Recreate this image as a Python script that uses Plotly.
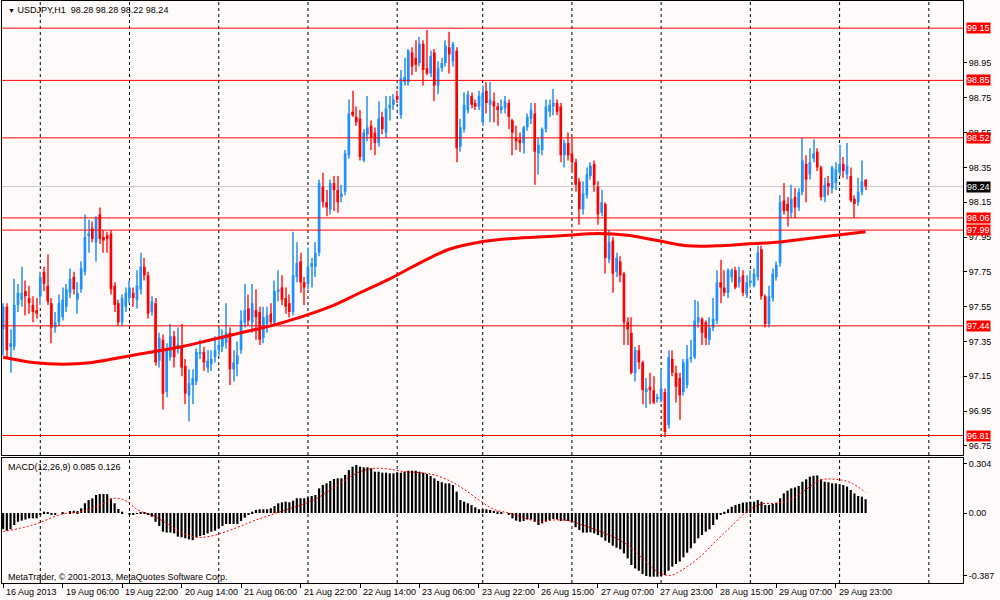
import plotly.graph_objects as go

# ---------------- data ----------------
opens = [
    97.42, 97.55, 97.32, 97.32, 97.56, 97.59, 97.64, 97.60, 97.56, 97.53,
    97.61, 97.75, 97.67, 97.57, 97.43, 97.46, 97.49, 97.55, 97.63, 97.72,
    97.59, 97.65, 97.75, 97.96, 98.00, 97.92, 98.08, 97.95, 97.96, 97.97,
    97.67, 97.57, 97.46, 97.55, 97.60, 97.63, 97.59, 97.65, 97.78, 97.73,
    97.52, 97.57, 97.24, 97.36, 97.06, 97.26, 97.38, 97.31, 97.32, 97.21,
    97.04, 97.10, 97.12, 97.28, 97.29, 97.20, 97.22, 97.26, 97.30, 97.32,
    97.34, 97.40, 97.19, 97.22, 97.30, 97.46, 97.54, 97.46, 97.53, 97.52,
    97.37, 97.45, 97.51, 97.46, 97.64, 97.66, 97.60, 97.57, 97.52, 97.72,
    97.81, 97.69, 97.68, 97.78, 97.78, 97.86, 98.24, 98.15, 98.11, 98.26,
    98.22, 98.18, 98.21, 98.42, 98.67, 98.64, 98.63, 98.39, 98.54, 98.59,
    98.55, 98.49, 98.64, 98.55, 98.69, 98.71, 98.76, 98.65, 98.84, 98.84,
    99.01, 98.98, 98.95, 99.06, 98.92, 98.89, 99.01, 98.82, 98.92, 98.95,
    99.04, 98.96, 99.02, 98.47, 98.57, 98.68, 98.76, 98.72, 98.70, 98.61,
    98.79, 98.71, 98.73, 98.70, 98.68, 98.69, 98.72, 98.62, 98.52, 98.51,
    98.49, 98.58, 98.63, 98.66, 98.43, 98.45, 98.57, 98.67, 98.70, 98.72,
    98.70, 98.42, 98.49, 98.43, 98.38, 98.27, 98.11, 98.19, 98.30, 98.37,
    98.24, 98.09, 98.14, 97.82, 97.93, 97.75, 97.81, 97.74, 97.46, 97.40,
    97.17, 97.30, 97.23, 97.06, 97.09, 97.07, 97.02, 97.01, 97.06, 96.87,
    97.25, 97.17, 97.14, 97.06, 97.10, 97.25, 97.26, 97.46, 97.48, 97.46,
    97.36, 97.43, 97.47, 97.69, 97.66, 97.63, 97.72, 97.76, 97.69, 97.73,
    97.62, 97.69, 97.67, 97.72, 97.88, 97.61, 97.45, 97.60, 97.72, 97.80,
    98.16, 98.14, 98.09, 98.18, 98.12, 98.21, 98.37, 98.31, 98.40, 98.44,
    98.35, 98.18, 98.26, 98.23, 98.26, 98.32, 98.37, 98.31, 98.30, 98.17,
    98.15, 98.21, 98.28,
]
highs = [
    97.57, 97.57, 97.42, 97.71, 97.68, 97.78, 97.70, 97.67, 97.61, 97.60,
    97.75, 97.78, 97.85, 97.60, 97.52, 97.62, 97.66, 97.68, 97.77, 97.75,
    97.69, 97.81, 98.08, 98.05, 98.04, 98.07, 98.12, 97.99, 97.98, 97.99,
    97.69, 97.59, 97.62, 97.66, 97.70, 97.66, 97.76, 97.86, 97.83, 97.75,
    97.61, 97.60, 97.40, 97.39, 97.34, 97.45, 97.41, 97.43, 97.45, 97.25,
    97.19, 97.19, 97.31, 97.36, 97.32, 97.30, 97.30, 97.38, 97.43, 97.42,
    97.57, 97.43, 97.30, 97.35, 97.53, 97.68, 97.62, 97.68, 97.65, 97.55,
    97.55, 97.55, 97.57, 97.70, 97.76, 97.73, 97.66, 97.62, 97.98, 97.92,
    97.86, 97.72, 97.89, 97.83, 97.92, 98.28, 98.32, 98.22, 98.28, 98.30,
    98.30, 98.25, 98.45, 98.74, 98.79, 98.70, 98.68, 98.57, 98.76, 98.62,
    98.58, 98.73, 98.67, 98.76, 98.76, 98.77, 98.79, 98.91, 98.98, 99.03,
    99.04, 99.08, 99.10, 99.08, 99.14, 99.02, 99.03, 98.96, 98.98, 99.08,
    99.13, 99.07, 99.04, 98.63, 98.78, 98.79, 98.78, 98.74, 98.79, 98.82,
    98.84, 98.84, 98.78, 98.72, 98.74, 98.76, 98.74, 98.63, 98.59, 98.55,
    98.59, 98.66, 98.72, 98.72, 98.52, 98.58, 98.74, 98.74, 98.80, 98.74,
    98.72, 98.51, 98.55, 98.52, 98.40, 98.29, 98.27, 98.35, 98.38, 98.39,
    98.27, 98.22, 98.15, 97.99, 97.95, 97.86, 97.84, 97.75, 97.49, 97.49,
    97.32, 97.33, 97.24, 97.14, 97.17, 97.15, 97.05, 97.19, 97.08, 97.30,
    97.30, 97.21, 97.17, 97.25, 97.33, 97.36, 97.59, 97.58, 97.49, 97.47,
    97.49, 97.60, 97.76, 97.82, 97.76, 97.77, 97.77, 97.78, 97.78, 97.76,
    97.73, 97.76, 97.77, 97.90, 97.90, 97.62, 97.67, 97.77, 97.81, 98.19,
    98.26, 98.18, 98.25, 98.23, 98.23, 98.52, 98.42, 98.46, 98.51, 98.46,
    98.36, 98.29, 98.30, 98.36, 98.38, 98.48, 98.41, 98.49, 98.35, 98.19,
    98.29, 98.39, 98.28,
]
lows = [
    97.27, 97.25, 97.17, 97.30, 97.52, 97.55, 97.50, 97.51, 97.46, 97.48,
    97.56, 97.64, 97.56, 97.34, 97.40, 97.44, 97.47, 97.52, 97.60, 97.62,
    97.51, 97.63, 97.73, 97.86, 97.92, 97.81, 97.91, 97.86, 97.86, 97.62,
    97.52, 97.44, 97.44, 97.52, 97.57, 97.55, 97.54, 97.62, 97.70, 97.48,
    97.50, 97.21, 97.20, 96.96, 97.03, 97.24, 97.20, 97.28, 97.15, 96.99,
    96.89, 96.99, 97.10, 97.25, 97.18, 97.17, 97.18, 97.23, 97.27, 97.29,
    97.31, 97.10, 97.12, 97.15, 97.28, 97.43, 97.44, 97.40, 97.36, 97.33,
    97.34, 97.40, 97.44, 97.44, 97.58, 97.56, 97.51, 97.49, 97.50, 97.69,
    97.63, 97.56, 97.65, 97.66, 97.72, 97.84, 98.12, 98.07, 98.08, 98.10,
    98.09, 98.15, 98.19, 98.40, 98.64, 98.59, 98.39, 98.38, 98.50, 98.45,
    98.42, 98.47, 98.54, 98.52, 98.62, 98.68, 98.72, 98.63, 98.82, 98.82,
    98.88, 98.90, 98.93, 98.82, 98.88, 98.87, 98.73, 98.77, 98.90, 98.93,
    98.89, 98.93, 98.38, 98.44, 98.55, 98.66, 98.69, 98.68, 98.68, 98.59,
    98.66, 98.61, 98.61, 98.59, 98.66, 98.66, 98.57, 98.42, 98.45, 98.44,
    98.43, 98.56, 98.60, 98.25, 98.31, 98.42, 98.55, 98.64, 98.65, 98.65,
    98.38, 98.35, 98.39, 98.32, 98.21, 98.02, 98.08, 98.17, 98.28, 98.21,
    98.02, 98.07, 97.74, 97.80, 97.63, 97.72, 97.69, 97.33, 97.33, 97.16,
    97.12, 97.19, 96.99, 96.97, 96.99, 96.99, 97.00, 97.00, 96.80, 96.85,
    97.15, 97.00, 96.90, 97.04, 97.08, 97.23, 97.25, 97.43, 97.33, 97.33,
    97.33, 97.41, 97.45, 97.57, 97.61, 97.60, 97.69, 97.65, 97.66, 97.61,
    97.60, 97.66, 97.66, 97.70, 97.59, 97.43, 97.43, 97.58, 97.70, 97.78,
    98.08, 98.01, 98.06, 98.06, 98.10, 98.19, 98.15, 98.28, 98.38, 98.33,
    98.16, 98.15, 98.19, 98.20, 98.22, 98.30, 98.29, 98.28, 98.15, 98.06,
    98.13, 98.19, 98.22,
]
closes = [
    97.55, 97.30, 97.34, 97.56, 97.63, 97.63, 97.61, 97.57, 97.52, 97.51,
    97.72, 97.68, 97.58, 97.43, 97.46, 97.57, 97.59, 97.65, 97.71, 97.65,
    97.63, 97.77, 97.95, 97.97, 97.94, 98.06, 97.94, 97.93, 97.94, 97.65,
    97.56, 97.46, 97.60, 97.63, 97.66, 97.60, 97.67, 97.78, 97.73, 97.51,
    97.58, 97.23, 97.37, 97.05, 97.31, 97.38, 97.26, 97.33, 97.20, 97.05,
    97.11, 97.14, 97.29, 97.29, 97.23, 97.24, 97.25, 97.30, 97.33, 97.38,
    97.40, 97.19, 97.23, 97.27, 97.47, 97.53, 97.47, 97.57, 97.49, 97.36,
    97.49, 97.50, 97.46, 97.64, 97.65, 97.59, 97.55, 97.52, 97.73, 97.80,
    97.69, 97.66, 97.78, 97.80, 97.86, 98.26, 98.15, 98.12, 98.26, 98.22,
    98.15, 98.20, 98.43, 98.66, 98.65, 98.61, 98.41, 98.55, 98.58, 98.52,
    98.49, 98.63, 98.57, 98.69, 98.71, 98.74, 98.74, 98.86, 98.87, 99.02,
    98.93, 98.94, 99.06, 98.91, 98.89, 98.99, 98.82, 98.92, 98.95, 99.05,
    99.00, 99.06, 98.46, 98.58, 98.71, 98.77, 98.71, 98.70, 98.76, 98.78,
    98.72, 98.74, 98.70, 98.68, 98.70, 98.73, 98.64, 98.55, 98.50, 98.49,
    98.58, 98.64, 98.68, 98.44, 98.48, 98.57, 98.70, 98.71, 98.72, 98.67,
    98.42, 98.49, 98.42, 98.38, 98.25, 98.11, 98.20, 98.31, 98.36, 98.25,
    98.08, 98.15, 97.83, 97.92, 97.74, 97.83, 97.73, 97.46, 97.42, 97.17,
    97.30, 97.23, 97.07, 97.08, 97.07, 97.00, 97.03, 97.08, 96.83, 97.26,
    97.17, 97.09, 97.04, 97.23, 97.25, 97.26, 97.47, 97.49, 97.40, 97.37,
    97.43, 97.48, 97.69, 97.66, 97.63, 97.76, 97.76, 97.66, 97.72, 97.63,
    97.69, 97.70, 97.74, 97.86, 97.61, 97.45, 97.61, 97.74, 97.79, 98.15,
    98.10, 98.10, 98.17, 98.12, 98.21, 98.39, 98.28, 98.38, 98.43, 98.35,
    98.18, 98.25, 98.24, 98.35, 98.34, 98.37, 98.33, 98.36, 98.16, 98.14,
    98.21, 98.27, 98.24,
]

# moving average (read at every 8th bar)
ma_idx = list(range(0, 233, 8))
ma_val = [97.26, 97.23, 97.22, 97.23, 97.26, 97.29, 97.32, 97.36, 97.40, 97.44,
          97.49, 97.55, 97.63, 97.71, 97.80, 97.88, 97.92, 97.94, 97.95, 97.96,
          97.97, 97.96, 97.93, 97.90, 97.90, 97.91, 97.92, 97.94, 97.96, 97.98]

# MACD histogram (one value per bar)
macd = [
    -0.100, -0.110, -0.100, -0.074, -0.054, -0.047, -0.040, -0.033, -0.033, -0.033,
    -0.008, 0.008, 0.004, -0.012, -0.008, 0.000, 0.002, 0.000, 0.012, 0.014,
    0.012, 0.029, 0.060, 0.080, 0.090, 0.111, 0.117, 0.117, 0.117, 0.090,
    0.060, 0.025, 0.008, 0.000, -0.010, -0.010, -0.006, 0.002, 0.004, -0.008,
    -0.023, -0.054, -0.080, -0.115, -0.121, -0.121, -0.126, -0.146, -0.150, -0.156,
    -0.163, -0.167, -0.150, -0.142, -0.136, -0.126, -0.115, -0.109, -0.095, -0.080,
    -0.068, -0.068, -0.068, -0.068, -0.049, -0.029, -0.012, 0.008, 0.019, 0.023,
    0.023, 0.023, 0.029, 0.043, 0.060, 0.066, 0.070, 0.066, 0.076, 0.091,
    0.091, 0.091, 0.097, 0.105, 0.111, 0.152, 0.173, 0.183, 0.198, 0.210,
    0.214, 0.214, 0.235, 0.265, 0.286, 0.296, 0.286, 0.282, 0.282, 0.276,
    0.255, 0.255, 0.249, 0.249, 0.245, 0.245, 0.249, 0.249, 0.255, 0.261,
    0.261, 0.261, 0.255, 0.249, 0.241, 0.228, 0.214, 0.198, 0.190, 0.183,
    0.183, 0.173, 0.132, 0.080, 0.070, 0.060, 0.049, 0.035, 0.023, 0.023,
    0.023, 0.019, 0.014, 0.010, 0.005, 0.000, -0.012, -0.033, -0.047, -0.054,
    -0.049, -0.040, -0.040, -0.054, -0.074, -0.064, -0.054, -0.043, -0.037, -0.040,
    -0.049, -0.047, -0.049, -0.054, -0.088, -0.105, -0.121, -0.121, -0.119, -0.126,
    -0.136, -0.150, -0.171, -0.183, -0.202, -0.214, -0.224, -0.249, -0.280, -0.321,
    -0.342, -0.356, -0.377, -0.389, -0.393, -0.393, -0.393, -0.389, -0.383, -0.356,
    -0.331, -0.315, -0.300, -0.274, -0.245, -0.218, -0.187, -0.156, -0.136, -0.115,
    -0.101, -0.074, -0.040, -0.012, 0.008, 0.023, 0.039, 0.049, 0.056, 0.064,
    0.066, 0.070, 0.070, 0.080, 0.070, 0.049, 0.049, 0.056, 0.064, 0.091,
    0.121, 0.138, 0.152, 0.158, 0.167, 0.193, 0.208, 0.224, 0.230, 0.232,
    0.208, 0.193, 0.190, 0.183, 0.183, 0.177, 0.173, 0.163, 0.142, 0.121,
    0.105, 0.101, 0.085,
]

# MACD signal line (read at sparse bars)
sig_idx = [0, 8, 16, 20, 24, 28, 30, 32, 34, 36, 38, 40, 44, 48, 52, 56, 60, 64, 68, 72,
           76, 80, 84, 88, 92, 96, 100, 104, 108, 112, 116, 120, 124, 128, 132, 136, 140,
           144, 148, 152, 156, 160, 164, 168, 172, 176, 178, 180, 184, 188, 192, 196, 200,
           204, 208, 212, 216, 220, 224, 228, 232]
sig_val = [-0.115, -0.074, -0.006, 0.004, 0.029, 0.070, 0.091, 0.085, 0.060, 0.023,
           0.002, -0.012, -0.064, -0.121, -0.150, -0.142, -0.115, -0.080, -0.043, -0.012,
           0.019, 0.049, 0.085, 0.142, 0.204, 0.255, 0.276, 0.270, 0.255, 0.249,
           0.235, 0.200, 0.146, 0.080, 0.023, 0.000, -0.029, -0.054, -0.043, -0.047,
           -0.074, -0.109, -0.146, -0.198, -0.280, -0.362, -0.383, -0.383, -0.331, -0.259,
           -0.167, -0.080, 0.008, 0.056, 0.060, 0.085, 0.146, 0.204, 0.208, 0.187,
           0.126]

time_label_idx = [0, 16, 32, 48, 64, 80, 96, 112, 128, 144, 160, 176, 192, 208, 224]
time_labels = ["16 Aug 2013", "19 Aug 06:00", "19 Aug 22:00", "20 Aug 14:00",
               "21 Aug 06:00", "21 Aug 22:00", "22 Aug 14:00", "23 Aug 06:00",
               "23 Aug 22:00", "26 Aug 15:00", "27 Aug 07:00", "27 Aug 23:00",
               "28 Aug 15:00", "29 Aug 07:00", "29 Aug 23:00"]
grid_idx = [10, 34, 58, 82, 106, 129, 153, 177, 201, 225, 249]

price_ticks = [96.75, 96.95, 97.15, 97.35, 97.55, 97.75, 97.95, 98.15, 98.35, 98.55, 98.75, 98.95]
levels = [99.15, 98.85, 98.52, 98.06, 97.99, 97.44, 96.81]
bid = 98.24
macd_ticks = [0.304, 0.0, -0.387]
macd_ticktext = ["0.304", "0.00", "-0.387"]

symbol = "USDJPY,H1"
copyright_txt = "MetaTrader, \u00a9 2001-2013, MetaQuotes Software Corp."

# ---------------- geometry / style ----------------
W, H = 1000, 600
def px_x(p):
    return p / W
def px_y(p):
    return 1 - p / H

X0, X1 = 2, 963
MAIN_TOP, MAIN_BOT = 1, 455
SUB_TOP, SUB_BOT = 458, 583
XR = [-0.3, 258.2]
PR = [96.698, 99.306]
MR = [-0.432, 0.3395]

BULL, BEAR = "#1E90FF", "#FF0000"
BULL_W, BEAR_W = "#5AAAF2", "#FF5555"
BG = "#FFFAFA"
FONT = "Liberation Sans"
FS = 9

idx = list(range(len(closes)))
body_col = [BULL if c >= o else BEAR for o, c in zip(opens, closes)]
wick_col = [BULL_W if c >= o else BEAR_W for o, c in zip(opens, closes)]
body_h = [(c - o) if abs(c - o) > 0.004 else 0.006 for o, c in zip(opens, closes)]
wick_h = [h - l for h, l in zip(highs, lows)]

fig = go.Figure()
fig.add_trace(go.Bar(x=idx, y=wick_h, base=lows, width=0.28,
                     marker=dict(color=wick_col, line=dict(width=0)),
                     xaxis="x", yaxis="y", hoverinfo="skip"))
fig.add_trace(go.Bar(x=idx, y=body_h, base=opens, width=0.72,
                     marker=dict(color=body_col, line=dict(width=0)),
                     xaxis="x", yaxis="y", hoverinfo="skip"))
fig.add_trace(go.Scatter(x=ma_idx, y=ma_val, mode="lines",
                         line=dict(color="#FF0000", width=3, shape="spline"),
                         xaxis="x", yaxis="y", hoverinfo="skip"))
fig.add_trace(go.Bar(x=idx, y=macd, width=0.58,
                     marker=dict(color="#000000", line=dict(width=0)),
                     xaxis="x2", yaxis="y2", hoverinfo="skip"))
fig.add_trace(go.Scatter(x=sig_idx, y=sig_val, mode="lines",
                         line=dict(color="#FF0000", width=1, dash="2px,2px", shape="spline"),
                         xaxis="x2", yaxis="y2", hoverinfo="skip"))

shapes = []
for g in grid_idx:
    shapes.append(dict(type="line", xref="x", yref="paper", x0=g, x1=g,
                       y0=px_y(MAIN_BOT), y1=px_y(MAIN_TOP), layer="below",
                       line=dict(color="#000000", width=1, dash="3px,3px")))
    shapes.append(dict(type="line", xref="x2", yref="paper", x0=g, x1=g,
                       y0=px_y(SUB_BOT), y1=px_y(SUB_TOP), layer="below",
                       line=dict(color="#000000", width=1, dash="3px,3px")))
shapes.append(dict(type="line", xref="paper", yref="y", x0=px_x(X0), x1=px_x(X1),
                   y0=bid, y1=bid, layer="below", line=dict(color="#C8C8C8", width=1)))
for lv in levels:
    shapes.append(dict(type="line", xref="paper", yref="y", x0=px_x(X0), x1=px_x(X1),
                       y0=lv, y1=lv, line=dict(color="#FF0000", width=1)))

ann = []
for lv in levels:
    ann.append(dict(xref="paper", yref="y", x=px_x(965.5), y=lv, text=f"{lv:.2f}",
                    xanchor="left", yanchor="middle", showarrow=False,
                    font=dict(family=FONT, size=FS, color="white"),
                    bgcolor="#FF0000", borderpad=0))
ann.append(dict(xref="paper", yref="y", x=px_x(965.5), y=bid, text=f"{bid:.2f}",
                xanchor="left", yanchor="middle", showarrow=False,
                font=dict(family=FONT, size=FS, color="white"),
                bgcolor="#000000", borderpad=0))
for i, t in zip(time_label_idx, time_labels):
    ann.append(dict(xref="x2", yref="paper", x=i, y=px_y(592), text=t, xshift=1,
                    xanchor="left", yanchor="middle", showarrow=False,
                    font=dict(family=FONT, size=FS, color="black")))
header = (f"<span style='font-size:7px'>\u25bc</span> {symbol}\u00a0\u00a0"
          f"{opens[-1]:.2f} {highs[-1]:.2f} {lows[-1]:.2f} {closes[-1]:.2f}")
ann.append(dict(xref="paper", yref="paper", x=px_x(6), y=px_y(10), text=header,
                xanchor="left", yanchor="middle", showarrow=False,
                font=dict(family=FONT, size=FS, color="black")))
ann.append(dict(xref="paper", yref="paper", x=px_x(6), y=px_y(467),
                text=f"MACD(12,26,9) {macd[-1]:.3f} {sig_val[-1]:.3f}",
                xanchor="left", yanchor="middle", showarrow=False,
                font=dict(family=FONT, size=FS, color="black")))
ann.append(dict(xref="paper", yref="paper", x=px_x(6), y=px_y(577), text=copyright_txt,
                xanchor="left", yanchor="middle", showarrow=False,
                font=dict(family=FONT, size=FS, color="black")))

axis_common = dict(showgrid=False, zeroline=False, showline=True, mirror=True,
                   linecolor="#000000", linewidth=1, automargin=False)

fig.update_layout(
    width=W, height=H,
    margin=dict(l=0, r=0, t=0, b=0, pad=0, autoexpand=False),
    paper_bgcolor=BG, plot_bgcolor=BG,
    showlegend=False, barmode="overlay", hovermode=False,
    font=dict(family=FONT, size=FS, color="black"),
    xaxis=dict(domain=[px_x(X0), px_x(X1)], range=XR, anchor="y",
               showticklabels=False, ticks="", **axis_common),
    xaxis2=dict(domain=[px_x(X0), px_x(X1)], range=XR, anchor="y2", matches="x",
                showticklabels=False, ticks="outside", ticklen=4, tickcolor="#000000",
                tickvals=time_label_idx, **axis_common),
    yaxis=dict(domain=[px_y(MAIN_BOT), px_y(MAIN_TOP)], range=PR, anchor="x", side="right",
               tickvals=price_ticks, tickformat=".2f", ticks="outside", ticklen=3,
               tickcolor="#000000", tickfont=dict(family=FONT, size=FS, color="black"),
               **axis_common),
    yaxis2=dict(domain=[px_y(SUB_BOT), px_y(SUB_TOP)], range=MR, anchor="x2", side="right",
                tickvals=macd_ticks, ticktext=macd_ticktext, ticks="outside", ticklen=3,
                tickcolor="#000000", tickfont=dict(family=FONT, size=FS, color="black"),
                **axis_common),
    shapes=shapes, annotations=ann,
)

fig.write_html("out.html", config={"displayModeBar": False},
               post_script="document.body.style.margin='0';document.body.style.overflow='hidden';")
